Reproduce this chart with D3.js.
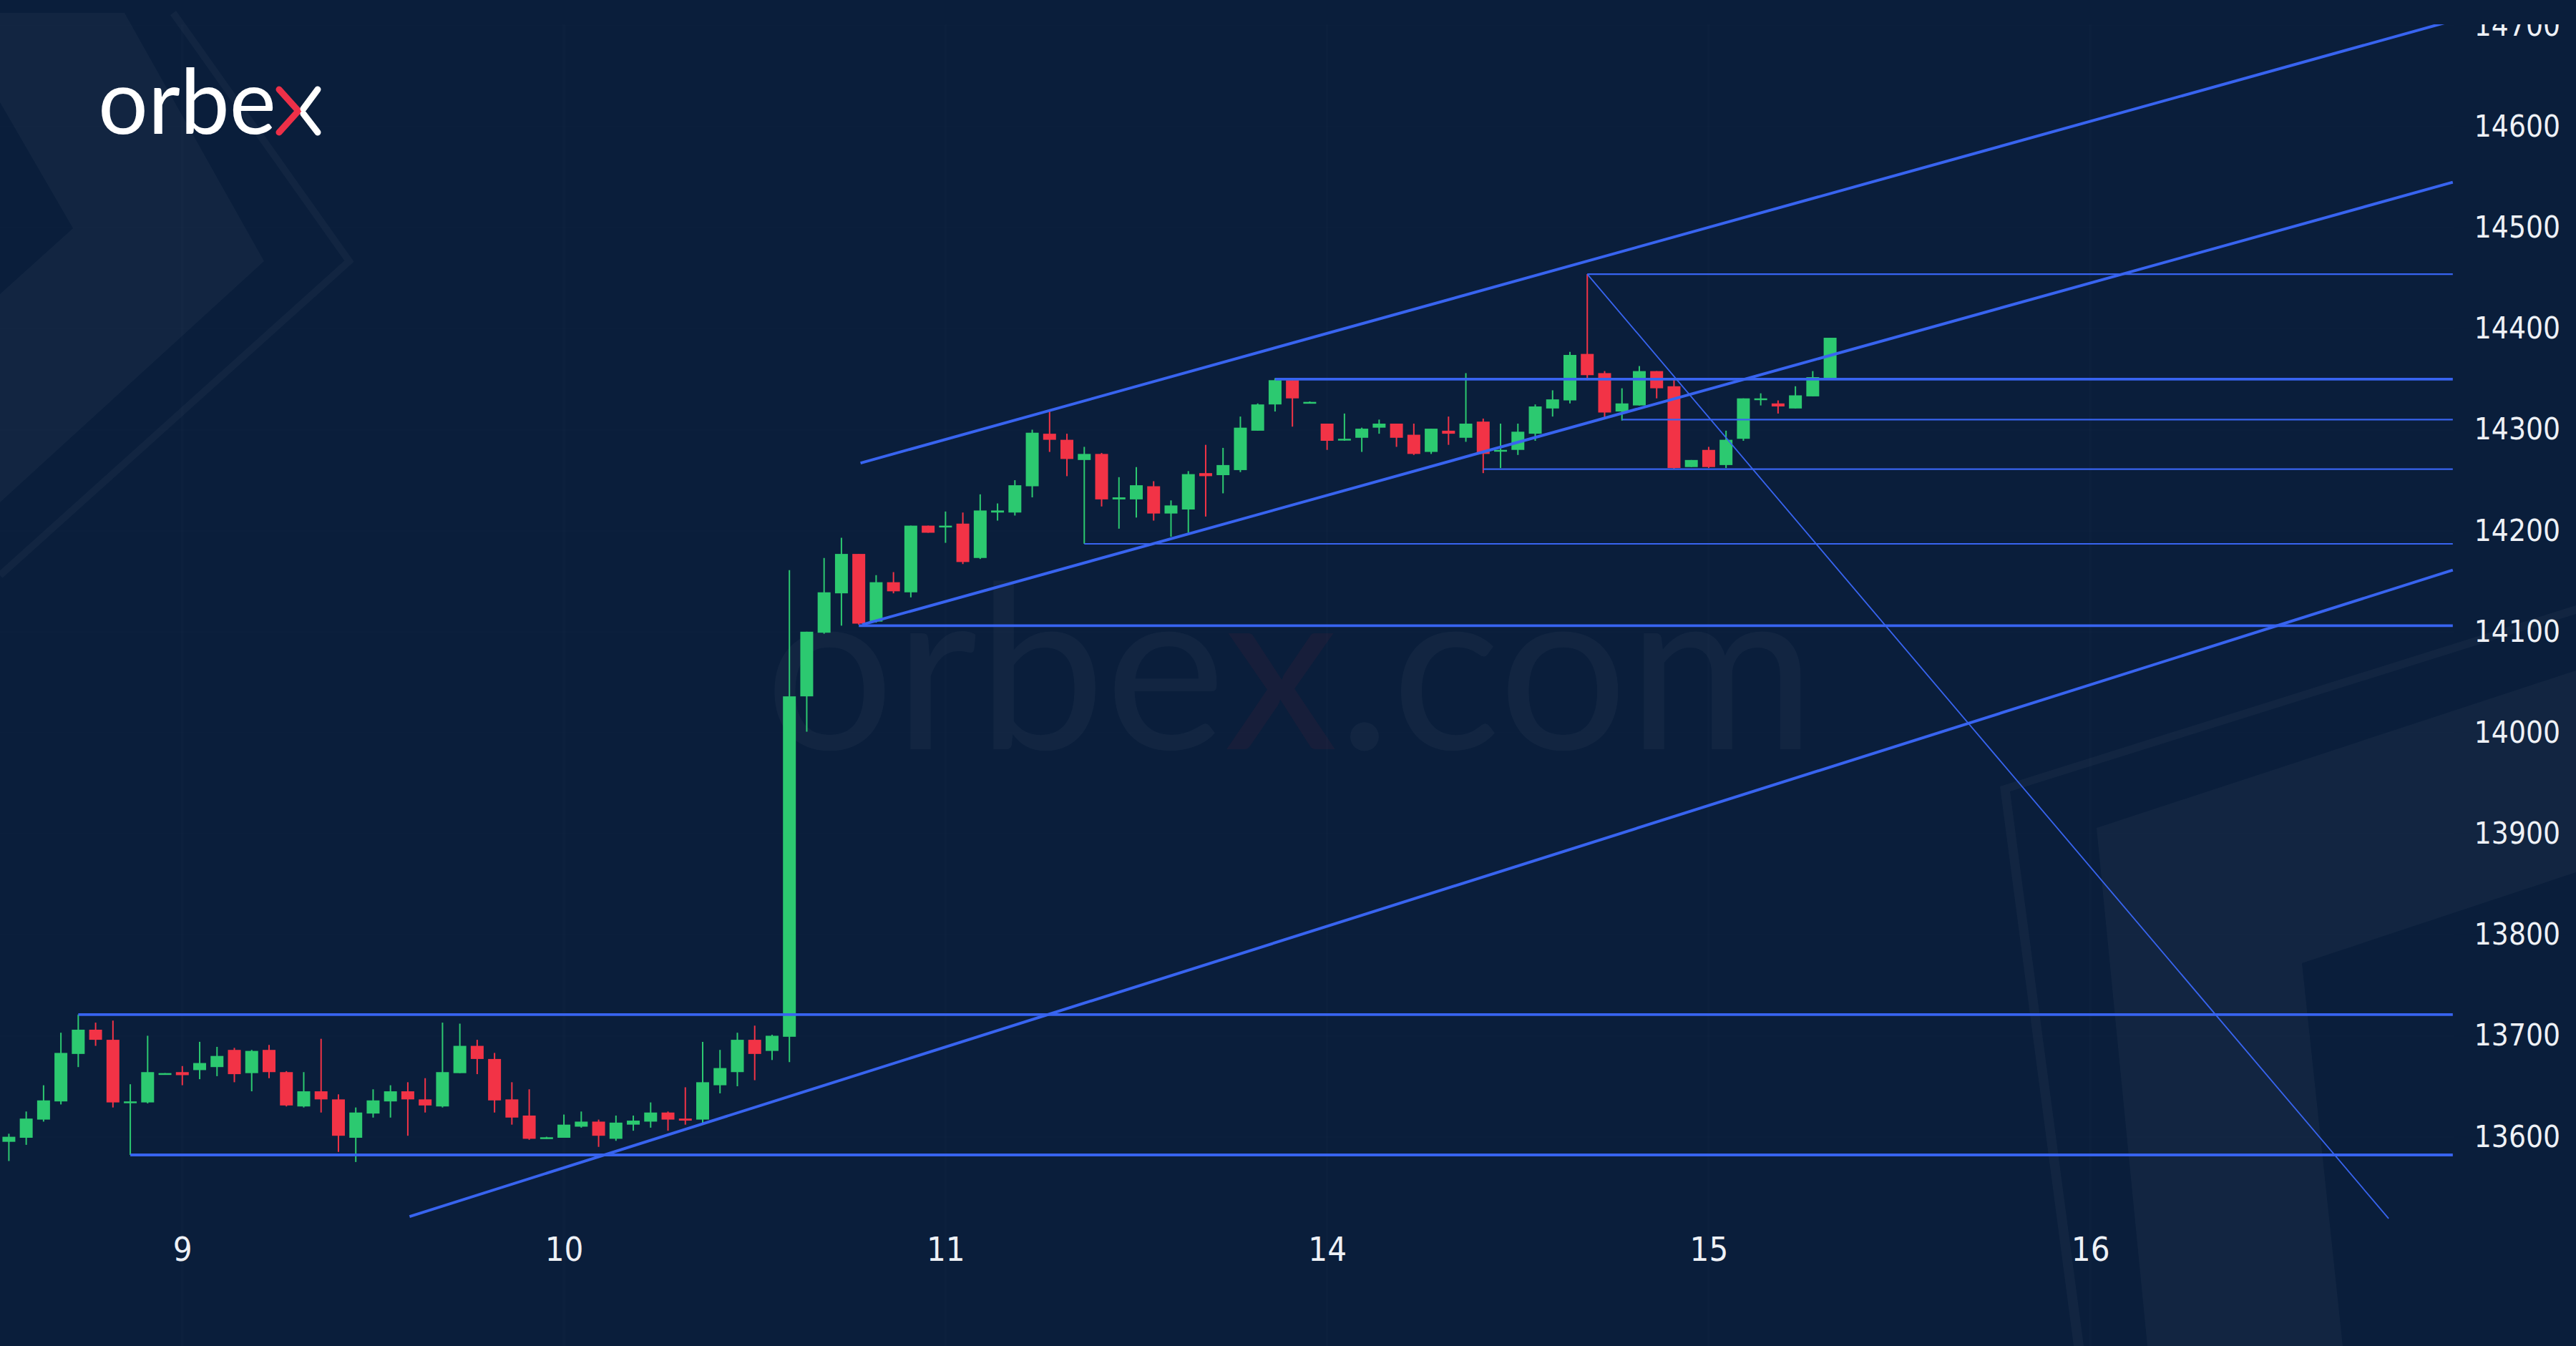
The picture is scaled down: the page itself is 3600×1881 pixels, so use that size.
<!DOCTYPE html>
<html lang="en">
<head>
    <meta charset="UTF-8">
    <title>orbex chart</title>
    <style>
        body {
            margin: 0;
            padding: 0;
            overflow: hidden;
            background: #0a1e3b;
        }

        svg {
            display: block;
        }

        .axis text {
            fill: #eef1f6;
            font-family: "DejaVu Sans Condensed", "DejaVu Sans", sans-serif;
            font-stretch: condensed;
        }

        .axis path,
        .axis line {
            display: none;
        }
    </style>
</head>
<body>
    <script src="https://d3js.org/d3.v7.min.js"></script>
    <script>
        // hourly candles, index 0 = first bar on the left
        const opens = [13595, 13599, 13617, 13635, 13682, 13706, 13696, 13634, 13634, 13662,
            13664, 13666, 13669, 13686, 13663, 13686, 13664, 13630, 13645, 13637,
            13599, 13623, 13635, 13645, 13637, 13630, 13663, 13690, 13677, 13637,
            13621, 13599, 13599, 13610, 13615, 13598, 13612, 13615, 13624, 13618,
            13617, 13651, 13664, 13696, 13685, 13699, 14036, 14099, 14138, 14177,
            14110, 14149, 14139, 14205, 14204, 14207, 14173, 14218, 14218, 14244,
            14296, 14290, 14270, 14276, 14231, 14231, 14244, 14217, 14221, 14257,
            14255, 14260, 14299, 14325, 14349, 14327, 14306, 14290, 14292, 14302,
            14306, 14295, 14278, 14299, 14292, 14308, 14279, 14280, 14296, 14321,
            14329, 14375, 14356, 14318, 14324, 14358, 14343, 14263, 14280, 14265,
            14291, 14330, 14326, 14321, 14333, 14351];
        const highs = [13603, 13625, 13651, 13703, 13721, 13713, 13715, 13652, 13700, 13663,
            13670, 13694, 13689, 13688, 13686, 13691, 13665, 13664, 13697, 13642,
            13629, 13647, 13651, 13654, 13658, 13713, 13712, 13696, 13683, 13654,
            13647, 13600, 13622, 13625, 13617, 13621, 13621, 13634, 13625, 13649,
            13694, 13686, 13703, 13710, 13701, 14161, 14100, 14173, 14193, 14177,
            14156, 14159, 14205, 14205, 14219, 14218, 14236, 14227, 14250, 14300,
            14318, 14296, 14283, 14277, 14253, 14263, 14249, 14230, 14259, 14285,
            14282, 14313, 14326, 14351, 14349, 14328, 14306, 14316, 14302, 14310,
            14306, 14306, 14301, 14313, 14356, 14311, 14306, 14306, 14325, 14339,
            14377, 14454, 14358, 14341, 14363, 14358, 14350, 14270, 14283, 14299,
            14331, 14336, 14329, 14343, 14358, 14391];
        const lows = [13576, 13592, 13615, 13632, 13669, 13690, 13629, 13582, 13633, 13662,
            13651, 13657, 13660, 13654, 13645, 13658, 13630, 13629, 13624, 13585,
            13575, 13619, 13619, 13601, 13624, 13629, 13663, 13662, 13624, 13612,
            13597, 13598, 13599, 13609, 13590, 13596, 13606, 13609, 13606, 13612,
            13612, 13643, 13650, 13656, 13676, 13674, 14001, 14098, 14106, 14107,
            14109, 14138, 14134, 14198, 14188, 14167, 14172, 14210, 14215, 14233,
            14278, 14254, 14187, 14224, 14202, 14213, 14210, 14194, 14198, 14214,
            14237, 14258, 14299, 14318, 14303, 14326, 14280, 14289, 14278, 14296,
            14283, 14275, 14276, 14285, 14288, 14257, 14262, 14275, 14289, 14313,
            14326, 14349, 14312, 14309, 14324, 14331, 14261, 14263, 14262, 14262,
            14289, 14324, 14316, 14321, 14333, 14351];
        const closes = [13600, 13618, 13636, 13683, 13706, 13696, 13634, 13635, 13664, 13663,
            13661, 13673, 13680, 13662, 13685, 13664, 13631, 13645, 13637, 13601,
            13624, 13636, 13645, 13637, 13631, 13664, 13690, 13677, 13636, 13619,
            13598, 13599.5, 13612, 13615, 13601, 13614, 13616, 13624, 13617, 13616,
            13654, 13668, 13696, 13682, 13700, 14036, 14100, 14139, 14177, 14108,
            14149, 14140, 14205, 14198, 14205, 14169, 14220, 14220, 14245, 14297,
            14290, 14271, 14276, 14231, 14233, 14245, 14217, 14225, 14256, 14254,
            14265, 14302, 14325, 14349, 14331, 14327.5, 14289, 14291, 14301, 14306,
            14292, 14276, 14301, 14296, 14306, 14276, 14280, 14298, 14323, 14330,
            14374, 14354, 14317, 14326, 14358, 14341, 14262, 14270, 14263, 14290,
            14331, 14331, 14323, 14334, 14352, 14391];

        // day separators (bar index) and their labels
        const dayTicks = [10, 32, 54, 76, 98, 120];
        const dayLabels = ["9", "10", "11", "14", "15", "16"];
        const priceTicks = [13600, 13700, 13800, 13900, 14000, 14100, 14200, 14300, 14400, 14500, 14600, 14700];

        // drawn levels: [price, starting bar]
        const heavyLevels = [[13721, 4], [13582, 7], [14106, 49], [14350, 73]];
        const lightLevels = [[14187, 62], [14261, 85], [14310, 93], [14454, 91]];
        const levelEnd = 140.9;

        // trend lines: [bar1, price1, bar2, price2]
        const channelLines = [
            [49.1, 14267, 140.9, 14705],
            [49.2, 14107, 140.9, 14545],
            [23.1, 13521, 140.9, 14161]
        ];
        const fanLine = [91, 14454, 137.2, 13519];

        const width = 3600;
        const height = 1881;

        const x = d3.scaleLinear().domain([0, 120]).range([12.4, 2921.2]);
        const y = d3.scaleLinear().domain([13600, 14600]).range([1588.6, 177]);

        const blue = "#3864f0";
        const up = "#2cc970";
        const down = "#f23346";

        const svg = d3.select("body").append("svg")
            .attr("width", width)
            .attr("height", height);

        svg.append("defs").append("clipPath")
            .attr("id", "plot")
            .append("rect")
            .attr("x", 0).attr("y", 34)
            .attr("width", width).attr("height", height - 34);

        svg.append("rect")
            .attr("width", width)
            .attr("height", height)
            .attr("fill", "#0a1e3b");

        // faint background shapes
        const deco = svg.append("g").attr("fill", "#ffffff").attr("fill-opacity", 0.035);
        deco.append("polygon")
            .attr("points", "0,18 174,18 369,365 0,702 0,411 102,319 0,143");
        deco.append("polyline")
            .attr("points", "242,18 488,365 0,804")
            .attr("fill", "none")
            .attr("stroke", "#ffffff")
            .attr("stroke-opacity", 0.035)
            .attr("stroke-width", 10);
        deco.append("polygon")
            .attr("points", "2795,1099 3600,846 3600,858 2809,1106 2912,1881 2898,1881");
        deco.append("polygon")
            .attr("points", "2930,1157 3600,937 3600,1219 3217,1346 3274,1881 3001,1881");

        // watermark
        const wm = svg.append("text")
            .attr("x", 1069)
            .attr("y", 1047)
            .attr("textLength", 1468)
            .attr("lengthAdjust", "spacingAndGlyphs")
            .attr("font-family", "Lato, 'Open Sans', sans-serif")
            .attr("font-size", 320)
            .attr("fill", "#ffffff")
            .attr("fill-opacity", 0.035);
        wm.append("tspan").text("orbe");
        wm.append("tspan").attr("fill", "#c8283c").attr("fill-opacity", 0.07).text("x");
        wm.append("tspan").text(".com");

        // logo
        const logo = svg.append("g");
        logo.append("text")
            .attr("x", 137)
            .attr("y", 187)
            .attr("textLength", 249)
            .attr("lengthAdjust", "spacingAndGlyphs")
            .attr("font-family", "Lato, 'Open Sans', sans-serif")
            .attr("font-size", 126)
            .attr("fill", "#ffffff")
            .text("orbe");
        logo.append("path")
            .attr("d", "M390,125 L417,155 L390,185")
            .attr("fill", "none")
            .attr("stroke", "#ee3048")
            .attr("stroke-width", 9)
            .attr("stroke-linecap", "round")
            .attr("stroke-linejoin", "round");
        logo.append("path")
            .attr("d", "M444,125 L424,152 M424,159 L444,185")
            .attr("fill", "none")
            .attr("stroke", "#ffffff")
            .attr("stroke-width", 9)
            .attr("stroke-linecap", "round");

        const g = svg.append("g").attr("clip-path", "url(#plot)");

        // barely visible grid
        g.append("g").selectAll("line")
            .data(dayTicks)
            .enter().append("line")
            .attr("x1", d => x(d)).attr("x2", d => x(d))
            .attr("y1", 0).attr("y2", height)
            .attr("stroke", "#ffffff")
            .attr("stroke-opacity", 0.01)
            .attr("stroke-width", 4);
        g.append("g").selectAll("line")
            .data(priceTicks)
            .enter().append("line")
            .attr("x1", 0).attr("x2", 3430)
            .attr("y1", d => y(d)).attr("y2", d => y(d))
            .attr("stroke", "#ffffff")
            .attr("stroke-opacity", 0.007)
            .attr("stroke-width", 3);

        // candles
        const bars = d3.range(opens.length).map(i => ({
            i: i, o: opens[i], h: highs[i], l: lows[i], c: closes[i]
        }));
        const barW = 18;

        const candle = g.append("g").selectAll("g")
            .data(bars)
            .enter().append("g");

        candle.append("line")
            .attr("x1", d => x(d.i)).attr("x2", d => x(d.i))
            .attr("y1", d => y(d.h)).attr("y2", d => y(d.l))
            .attr("stroke", d => d.c >= d.o ? up : down)
            .attr("stroke-width", 2);

        candle.append("rect")
            .attr("x", d => x(d.i) - barW / 2)
            .attr("y", d => y(Math.max(d.o, d.c)))
            .attr("width", barW)
            .attr("height", d => Math.max(2.5, Math.abs(y(d.o) - y(d.c))))
            .attr("fill", d => d.c >= d.o ? up : down);

        // levels and trend lines
        const lines = g.append("g").attr("stroke", blue).attr("fill", "none");
        lines.selectAll(".heavy")
            .data(heavyLevels)
            .enter().append("line")
            .attr("x1", d => x(d[1])).attr("x2", x(levelEnd))
            .attr("y1", d => y(d[0])).attr("y2", d => y(d[0]))
            .attr("stroke-width", 3.8);
        lines.selectAll(".light")
            .data(lightLevels)
            .enter().append("line")
            .attr("x1", d => x(d[1])).attr("x2", x(levelEnd))
            .attr("y1", d => y(d[0])).attr("y2", d => y(d[0]))
            .attr("stroke-width", 2.2);
        lines.selectAll(".trend")
            .data(channelLines)
            .enter().append("line")
            .attr("x1", d => x(d[0])).attr("y1", d => y(d[1]))
            .attr("x2", d => x(d[2])).attr("y2", d => y(d[3]))
            .attr("stroke-width", 4);
        lines.append("line")
            .attr("x1", x(fanLine[0])).attr("y1", y(fanLine[1]))
            .attr("x2", x(fanLine[2])).attr("y2", y(fanLine[3]))
            .attr("stroke-width", 1.8);

        // price axis
        g.append("g")
            .attr("class", "axis")
            .attr("transform", "translate(3578,0)")
            .call(d3.axisLeft(y).tickValues(priceTicks).tickSize(0).tickPadding(0).tickFormat(d3.format("d")))
            .selectAll("text")
            .attr("font-size", 42);

        // day axis
        svg.append("g")
            .attr("class", "axis")
            .attr("transform", "translate(0,1729)")
            .call(d3.axisBottom(x).tickValues(dayTicks).tickSize(0).tickPadding(0)
                .tickFormat((d, i) => dayLabels[i]))
            .selectAll("text")
            .attr("font-size", 47);
    </script>
</body>
</html>
